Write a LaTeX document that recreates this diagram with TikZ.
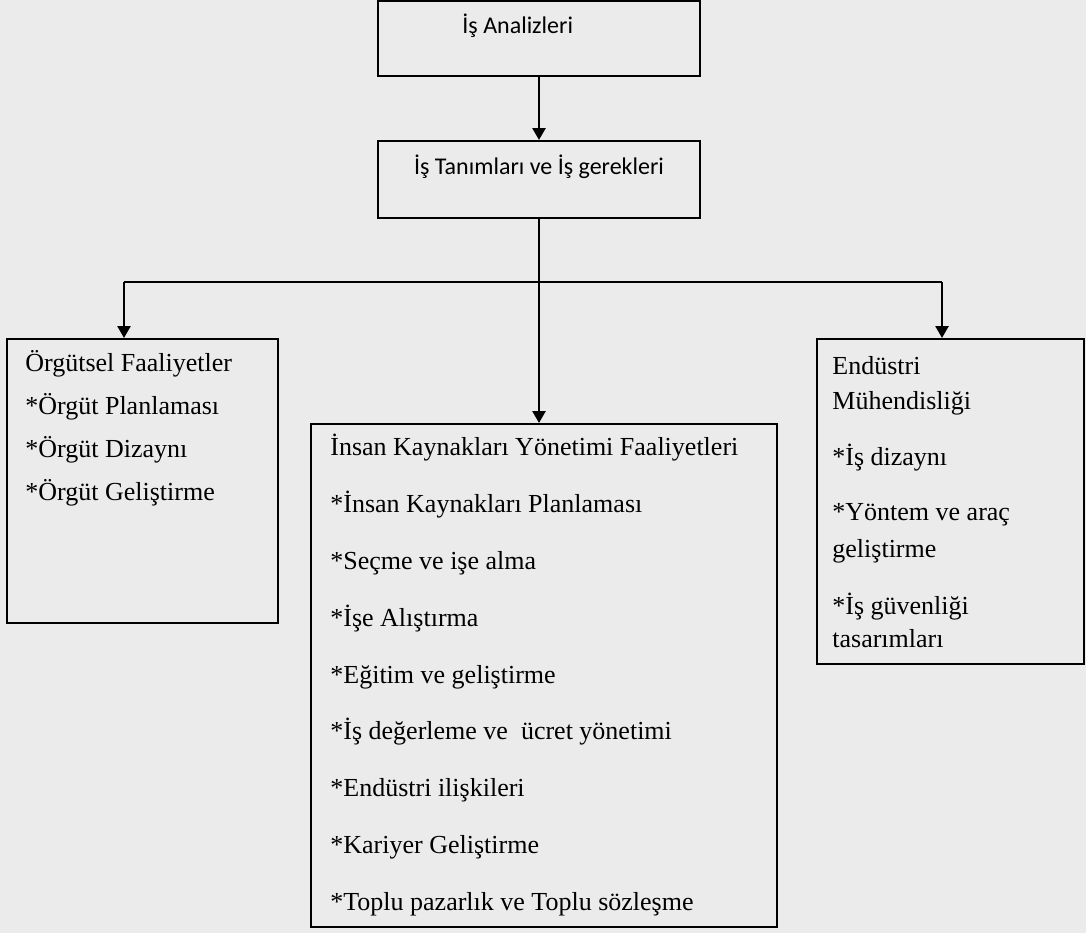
\documentclass[tikz,border=0pt]{standalone}
\usepackage{fontspec}
\setmainfont{Liberation Serif}
\newfontfamily\calibri{Carlito}
\usetikzlibrary{arrows.meta}
\definecolor{bgc}{HTML}{EBEBEB}
\begin{document}
\begin{tikzpicture}[x=0.5pt,y=-0.5pt,
  box/.style={draw=black, line width=1pt, inner sep=0pt},
  conn/.style={draw=black, line width=1.3pt},
  arr/.style={conn, -{Triangle[width=6.5pt,length=6pt]}},
  txt/.style={anchor=base west, inner sep=0pt, font=\fontsize{13}{15}\selectfont},
  stxt/.style={anchor=base west, inner sep=0pt, font=\calibri\fontsize{12}{14}\selectfont}]
\fill[bgc] (0,0) rectangle (1086,933);
\useasboundingbox (0,0) rectangle (1086,933);
% boxes
\node[box, minimum width=161pt, minimum height=37.5pt] (A) at (539,38.5) {};
\node[box, minimum width=161pt, minimum height=38.5pt] (B) at (539,179.5) {};
\node[box, minimum width=135.5pt, minimum height=142pt] (L) at (142.5,481) {};
\node[box, minimum width=233pt, minimum height=251.5pt] (M) at (544,675.5) {};
\node[box, minimum width=133.5pt, minimum height=162.5pt] (R) at (950.5,501.5) {};
% connectors
\coordinate (jC) at (539,282);
\coordinate (jL) at (124,282);
\coordinate (jR) at (942,282);
\draw[arr] (A) -- (B);
\draw[arr] (B.south) -- (B.south |- M.north);
\draw[conn] (jL) -- (jR);
\draw[arr] (jL) -- (jL |- L.north);
\draw[arr] (jR) -- (jR |- R.north);
% texts top
\node[stxt] (tA) at (462,33) {İş Analizleri};
\node[stxt, anchor=base] (tB) at (539,174) {İş Tanımları ve İş gerekleri};
% left
\node[txt] (l1) at (25,371) {Örgütsel Faaliyetler};
\node[txt] (l2) at (25,414) {*Örgüt Planlaması};
\node[txt] (l3) at (25,457) {*Örgüt Dizaynı};
\node[txt] (l4) at (25,500) {*Örgüt Geliştirme};
% middle
\node[txt] (m1) at (330,455) {İnsan Kaynakları Yönetimi Faaliyetleri};
\node[txt] (m2) at (330,512) {*İnsan Kaynakları Planlaması};
\node[txt] (m3) at (330,569) {*Seçme ve işe alma};
\node[txt] (m4) at (330,626) {*İşe Alıştırma};
\node[txt] (m5) at (330,683) {*Eğitim ve geliştirme};
\node[txt] (m6) at (330,739) {*İş değerleme ve\ \ ücret yönetimi};
\node[txt] (m7) at (330,796) {*Endüstri ilişkileri};
\node[txt] (m8) at (330,853) {*Kariyer Geliştirme};
\node[txt] (m9) at (330,910) {*Toplu pazarlık ve Toplu sözleşme};
% right
\node[txt] (r1) at (832,374) {Endüstri};
\node[txt] (r2) at (832,409) {Mühendisliği};
\node[txt] (r3) at (832,465) {*İş dizaynı};
\node[txt] (r4) at (832,520) {*Yöntem ve araç};
\node[txt] (r5) at (832,557) {geliştirme};
\node[txt] (r6) at (832,614) {*İş güvenliği};
\node[txt] (r7) at (832,647) {tasarımları};
\end{tikzpicture}
\end{document}
